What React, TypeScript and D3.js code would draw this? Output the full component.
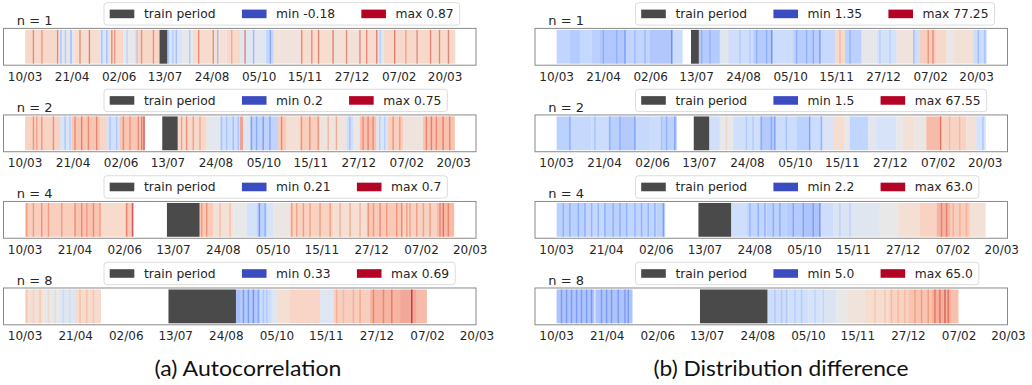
import React, { useEffect, useRef } from "react";
import * as d3 from "d3";

// ---------- data ----------
const tickLabels = ["10/03", "21/04", "02/06", "13/07", "24/08", "05/10", "15/11", "27/12", "07/02", "20/03"];
const tickDays = [0, 42, 84, 125, 167, 209, 250, 292, 334, 375];
const windowSizes = [1, 2, 4, 8];
// x-axis domain (days) of each row, box left .. box right
const axisDomains = [[-19.3, 402.6], [-18.9, 394.5], [-18.2, 379.9], [-17.9, 374.2]];
const trainPeriods = [[120, 127], [120, 133.5], [119.5, 147], [119, 175]];

const autoMin = [-0.18, 0.2, 0.21, 0.33];
const autoMax = [0.87, 0.75, 0.7, 0.69];
const diffMin = [1.35, 1.5, 2.2, 5.0];
const diffMax = [77.25, 67.55, 63.0, 65.0];

// [startDay, endDay, value]
const autoBands1 = [[0, 30, 0.47], [30, 44, 0.3], [44, 66, 0.45], [66, 76, 0.27], [76, 88, 0.47], [88, 98, 0.33], [98, 120, 0.48], [127, 140, 0.25], [140, 150, 0.33], [150, 166, 0.46], [166, 180, 0.42], [180, 192, 0.47], [192, 215, 0.3], [215, 222, 0.15], [222, 245, 0.4], [245, 275, 0.45], [275, 300, 0.42], [300, 315, 0.46], [315, 320, 0.3], [320, 384, 0.47]];
// [day, value]
const autoLines1 = [[7.4, 0.72], [15, 0.68], [29, 0.72], [32, 0.1], [36, 0.15], [41, 0.05], [49, 0.72], [57.4, 0.75], [68.5, 0.1], [73, 0.08], [77.4, 0.72], [80, 0.68], [91, 0.18], [100, 0.15], [104, 0.7], [114.6, 0.7], [128, 0.12], [132, 0.15], [135, 0.08], [147, 0.12], [155, 0.72], [168, 0.72], [172, 0.05], [184.5, 0.62], [196.4, 0.75], [204, 0.05], [219, 0.0], [247, 0.72], [256, 0.72], [262, 0.75], [275, 0.75], [287, 0.72], [299, 0.74], [305, 0.72], [314, 0.76], [317, 0.15], [330, 0.76], [340, 0.65], [350, 0.72], [362, 0.74], [370, 0.72], [378, 0.74]];

const autoBands2 = [[0, 30.6, 0.56], [30.6, 41, 0.43], [41, 65.6, 0.59], [65.6, 71.4, 0.55], [71.4, 83, 0.41], [83, 105, 0.59], [133.5, 158.8, 0.54], [158.8, 170.5, 0.46], [170.5, 188, 0.4], [188, 190.9, 0.66], [190.9, 196.7, 0.45], [196.7, 221.4, 0.36], [221.4, 228.7, 0.58], [228.7, 240.4, 0.52], [240.4, 257.9, 0.57], [257.9, 281.2, 0.5], [281.2, 287, 0.4], [287, 292.8, 0.48], [292.8, 307.4, 0.6], [307.4, 317.6, 0.44], [317.6, 330.7, 0.57], [330.7, 348.2, 0.5], [348.2, 376, 0.6]];
const autoLines2 = [[7.3, 0.65], [10.2, 0.63], [14.6, 0.65], [24.8, 0.66], [35, 0.36], [39.3, 0.38], [43.7, 0.66], [49.5, 0.68], [55.4, 0.66], [62.6, 0.67], [74.3, 0.36], [80.1, 0.37], [86, 0.66], [91.8, 0.65], [99.1, 0.66], [102, 0.68], [104, 0.72], [136.9, 0.64], [141.3, 0.66], [147.1, 0.64], [153, 0.62], [171.9, 0.35], [176.3, 0.36], [182.1, 0.34], [186.5, 0.36], [198.1, 0.28], [202.5, 0.3], [208.3, 0.27], [214.2, 0.29], [224.4, 0.67], [241.8, 0.65], [249.1, 0.66], [256.4, 0.65], [265.2, 0.6], [272.4, 0.62], [284.1, 0.35], [295.7, 0.66], [300.1, 0.67], [304.5, 0.66], [310.3, 0.38], [314.7, 0.38], [322, 0.65], [327.8, 0.64], [351.1, 0.67], [355.5, 0.68], [359.8, 0.66], [365.7, 0.68], [371.5, 0.67]];

const autoBands4 = [[0, 40.7, 0.54], [40.7, 63.2, 0.56], [63.2, 84.2, 0.51], [84.2, 91.5, 0.55], [147, 158.7, 0.55], [158.7, 175.5, 0.49], [175.5, 186.7, 0.455], [186.7, 195.2, 0.4], [195.2, 203.6, 0.35], [203.6, 209.2, 0.41], [209.2, 223.3, 0.465], [223.3, 259.8, 0.53], [259.8, 287.8, 0.5], [287.8, 318.7, 0.55], [318.7, 346.8, 0.53], [346.8, 361.5, 0.58]];
const autoLines4 = [[1.4, 0.6], [7, 0.6], [14, 0.61], [19.7, 0.6], [30.9, 0.6], [42.1, 0.61], [47.7, 0.62], [52, 0.6], [57.6, 0.62], [63.2, 0.6], [85.6, 0.63], [90.5, 0.68], [148.8, 0.6], [153, 0.61], [164.3, 0.55], [172.7, 0.54], [197.4, 0.26], [202.2, 0.31], [224.7, 0.6], [228.9, 0.59], [234.5, 0.6], [240.1, 0.59], [248.5, 0.6], [257, 0.6], [265.4, 0.57], [273.8, 0.58], [282.2, 0.57], [289.2, 0.61], [293.5, 0.6], [299.1, 0.62], [304.7, 0.6], [313.1, 0.61], [317.3, 0.62], [321.6, 0.6], [324.3, 0.59], [330, 0.6], [335.6, 0.59], [341.2, 0.6], [349.6, 0.62], [352.4, 0.65], [356.6, 0.62]];

const autoBands8 = [[0, 15.2, 0.54], [15.2, 29, 0.51], [29, 41.5, 0.49], [41.5, 63, 0.55], [175, 178.4, 0.4], [178.4, 195, 0.42], [195, 204.7, 0.456], [204.7, 208.9, 0.49], [208.9, 219.9, 0.54], [219.9, 244.8, 0.56], [244.8, 255.9, 0.49], [255.9, 286.3, 0.57], [286.3, 311.2, 0.61], [311.2, 325, 0.625], [325, 333.5, 0.6]];
const autoLines8 = [[1.4, 0.56], [6.9, 0.53], [12.4, 0.56], [19.4, 0.53], [24.9, 0.52], [31.8, 0.48], [37.3, 0.49], [45.6, 0.57], [51.2, 0.57], [56.7, 0.56], [181.2, 0.38], [185.3, 0.38], [189.5, 0.37], [193.6, 0.4], [197.8, 0.44], [200.6, 0.45], [258.6, 0.59], [264.2, 0.58], [272.5, 0.59], [278, 0.6], [289.1, 0.63], [297.4, 0.63], [304.3, 0.64], [320.9, 0.69]];

const diffBands1 = [[0, 11.9, 24.5], [11.9, 20.8, 20.5], [20.8, 31.3, 26], [31.3, 38.7, 22.5], [38.7, 62.5, 19.5], [62.5, 83.3, 24.5], [83.3, 104.2, 19.5], [104.2, 112.5, 28], [127, 145.8, 20.5], [145.8, 151.8, 34.5], [151.8, 153.3, 45.4], [153.3, 175.6, 28.5], [175.6, 193.5, 20.5], [193.5, 211.3, 28], [211.3, 235.1, 21.5], [235.1, 248.5, 26.5], [248.5, 257.4, 48.4], [257.4, 272.3, 23], [272.3, 285.7, 37.8], [285.7, 303.6, 31], [303.6, 318.5, 43.1], [318.5, 324.4, 29], [324.4, 339.3, 53], [339.3, 348.2, 48.4], [348.2, 354.2, 39.3], [354.2, 372, 44.6], [372, 384, 28]];
const diffLines1 = [[41.7, 16.5], [53.6, 18], [61, 12.7], [69.9, 20], [78.9, 20], [102.7, 8.9], [129.5, 18], [136.9, 18], [163.7, 26], [172.6, 26], [178.6, 18], [187.5, 17], [192, 10], [214.3, 18], [223.2, 18], [229.2, 16], [235.1, 10], [253, 54.5], [261.9, 18], [288.7, 27], [297.6, 27], [319, 20], [331.8, 63.6], [336, 66], [376.5, 20], [382.4, 22]];

const diffBands2 = [[0, 11.7, 20], [11.7, 30.6, 23.3], [30.6, 45.2, 24.6], [45.2, 55.4, 19.3], [55.4, 68.5, 18], [68.5, 81.6, 23.3], [81.6, 91.8, 24.6], [91.8, 105.2, 20], [133.5, 142.8, 26.6], [142.8, 154.4, 34.5], [154.4, 177.7, 26.6], [177.7, 192.3, 18], [192.3, 209.8, 24.6], [209.8, 221.4, 20], [221.4, 233.7, 24.6], [233.7, 241.8, 29.2], [241.8, 252, 41.1], [252, 256.4, 34.5], [256.4, 272.4, 21.3], [272.4, 279.7, 32.5], [279.7, 297.2, 27.9], [297.2, 303, 34.5], [303, 313.2, 39.2], [313.2, 323.4, 35.8], [323.4, 336.6, 51], [336.6, 358.4, 44.4], [358.4, 367.1, 39.2], [367.1, 375.5, 27.9]];
const diffLines2 = [[11.7, 13.4], [33.5, 20], [46.6, 15], [55.4, 15], [68.5, 11.4], [91.8, 20], [96.2, 16], [103.4, 11.4], [148.6, 39.2], [166.1, 22], [171.9, 22], [179.2, 15], [187.9, 14], [190.8, 13.4], [201, 20], [221.4, 11.4], [231.6, 14.7], [336, 61], [343.8, 47], [352.6, 47], [373, 20]];

const diffBands4 = [[0, 25.3, 19.2], [25.3, 39.3, 21.7], [39.3, 59, 19.2], [59, 84.2, 20.4], [84.2, 91.5, 19.2], [147, 160.1, 24.7], [160.1, 176.9, 20.4], [176.9, 193.8, 19.2], [193.8, 207.8, 17.4], [207.8, 221.8, 15.6], [221.8, 233.1, 24.1], [233.1, 249.9, 27.7], [249.9, 272.4, 29.6], [272.4, 287.8, 32.6], [287.8, 306.1, 37.5], [306.1, 320.1, 41.7], [320.1, 331.4, 49.6], [331.4, 348.2, 43.5], [348.2, 361.5, 36.9]];
const diffLines4 = [[5.6, 15], [11.2, 14.4], [18.3, 15], [23.9, 14.4], [29.5, 16], [35.1, 16], [40.7, 14.4], [47.7, 15], [53.4, 14.4], [59, 15], [66, 16], [71.6, 15], [77.2, 16], [82.8, 15], [89.9, 11.3], [162.9, 16], [169.9, 15], [175.5, 15], [182.6, 14.4], [188.1, 14], [199.4, 13], [207.8, 12], [216.2, 12], [221.8, 8.3], [238.7, 24], [247.1, 24], [324.3, 53.9], [328.6, 53.9], [334.2, 46], [339.8, 46], [345.4, 46]];

const diffBands8 = [[0, 31.5, 18.2], [32.2, 63, 18.2], [175, 192.3, 26.6], [192.3, 208.9, 27.8], [208.9, 219.9, 29], [219.9, 232.4, 30.8], [232.4, 240.7, 35], [240.7, 255.9, 38], [255.9, 275.2, 41], [275.2, 291.8, 44], [291.8, 311.2, 48.2], [311.2, 327.8, 53], [327.8, 333.5, 49.4]];
const diffLines8 = [[4.1, 14], [8.3, 14], [12.4, 14], [16.6, 14], [20.7, 14], [24.9, 14], [29, 13], [37.3, 14], [41.5, 14], [45.6, 14], [51.2, 14], [56.7, 14], [59.5, 14], [181.2, 24], [186.7, 24], [190.9, 24], [197.8, 25], [203.3, 25], [214.4, 27], [221.3, 28], [264.2, 43], [272.5, 43], [278, 46], [283.5, 46], [289.1, 47], [297.4, 51], [302.9, 52], [308.4, 52], [314, 57], [318.1, 58], [322.3, 60], [325, 58]];

const captions = ["(a) Autocorrelation", "(b) Distribution difference"];

const coolwarm = ["#3b4cc0", "#5977e3", "#7b9ff9", "#9ebeff", "#c0d4f5", "#dddcdc", "#f2cbb7", "#f7ac8e", "#ee8468", "#d65244", "#b40426"];

// ---------- layout ----------
const W = 1032, H = 385;
const panelLefts = [3.5, 535];
const boxW = 472.5;
const boxTop0 = 28.4, rowStep = 86.53, boxH = 36.8;
const captionCenters = [248, 781];
const captionWidths = [187, 255];
const FONT = "DejaVu Sans, sans-serif";
const TEXT = "#262626";

const fmt = (v: number) => (Number.isInteger(v) ? v.toFixed(1) : String(v));

export default function App() {
  const ref = useRef<SVGSVGElement>(null);

  useEffect(() => {
    const svg = d3.select(ref.current);
    svg.selectAll("*").remove();

    const panels = [
      { bands: [autoBands1, autoBands2, autoBands4, autoBands8], lines: [autoLines1, autoLines2, autoLines4, autoLines8], mins: autoMin, maxs: autoMax },
      { bands: [diffBands1, diffBands2, diffBands4, diffBands8], lines: [diffLines1, diffLines2, diffLines4, diffLines8], mins: diffMin, maxs: diffMax },
    ];

    panels.forEach((p, pi) => {
      const left = panelLefts[pi];
      windowSizes.forEach((n, r) => {
        const top = boxTop0 + r * rowStep;
        const bottom = top + boxH;
        const g = svg.append("g");
        const x = d3.scaleLinear().domain(axisDomains[r]).range([left, left + boxW]);
        const mn = p.mins[r], mx = p.maxs[r];
        const color = d3
          .scaleLinear<string>()
          .domain(coolwarm.map((_, i) => mn + ((mx - mn) * i) / (coolwarm.length - 1)))
          .range(coolwarm)
          .interpolate(d3.interpolateRgb)
          .clamp(true);

        const y0 = top + 1.5, y1 = bottom - 1.5;
        g.append("g")
          .selectAll("rect")
          .data(p.bands[r])
          .join("rect")
          .attr("x", (d) => x(d[0]))
          .attr("width", (d) => Math.max(0, x(d[1]) - x(d[0])))
          .attr("y", y0)
          .attr("height", y1 - y0)
          .attr("fill", (d) => color(d[2]))
          .attr("opacity", 0.65);

        g.append("g")
          .selectAll("rect")
          .data(p.lines[r])
          .join("rect")
          .attr("x", (d) => x(d[0] - 0.6))
          .attr("width", (d) => x(d[0] + 0.6) - x(d[0] - 0.6))
          .attr("y", y0)
          .attr("height", y1 - y0)
          .attr("fill", (d) => color(d[1]))
          .attr("opacity", 0.7);

        const tp = trainPeriods[r];
        g.append("rect")
          .attr("x", x(tp[0]))
          .attr("width", x(tp[1]) - x(tp[0]))
          .attr("y", y0)
          .attr("height", y1 - y0)
          .attr("fill", "#4a4a4a");

        g.append("rect")
          .attr("x", left)
          .attr("y", top)
          .attr("width", boxW)
          .attr("height", boxH)
          .attr("fill", "none")
          .attr("stroke", "#8a8a8a")
          .attr("stroke-width", 1);

        g.append("g")
          .selectAll("text")
          .data(tickDays)
          .join("text")
          .attr("x", (d) => x(d))
          .attr("y", bottom + 15.4)
          .attr("text-anchor", "middle")
          .attr("font-family", FONT)
          .attr("font-size", 12)
          .attr("fill", TEXT)
          .text((_, i) => tickLabels[i]);

        g.append("text")
          .attr("x", left + 13.3)
          .attr("y", top - 3.2)
          .attr("font-family", FONT)
          .attr("font-size", 13)
          .attr("fill", TEXT)
          .text(`n = ${n}`);

        // legend
        const lg = g.append("g");
        const lx = left + 100.5;
        const lh = 22.4;
        const ly = top - 3.3 - lh;
        const frame = lg.append("rect");
        const items = [
          { c: "#4a4a4a", t: "train period" },
          { c: coolwarm[0], t: `min ${fmt(mn)}` },
          { c: coolwarm[coolwarm.length - 1], t: `max ${fmt(mx)}` },
        ];
        let cx = lx + 5.7;
        const cy = ly + lh / 2;
        items.forEach((it, i) => {
          lg.append("rect")
            .attr("x", cx)
            .attr("y", cy - 4.3)
            .attr("width", 24.6)
            .attr("height", 8.6)
            .attr("fill", it.c);
          cx += 24.6 + 9.6;
          const t = lg
            .append("text")
            .attr("x", cx)
            .attr("y", cy + 4.4)
            .attr("font-family", FONT)
            .attr("font-size", 12.3)
            .attr("fill", TEXT)
            .text(it.t);
          const tw = (t.node() as SVGTextElement).getComputedTextLength();
          cx += tw + (i < items.length - 1 ? 26.3 : 6);
        });
        frame
          .attr("x", lx)
          .attr("y", ly)
          .attr("width", cx - lx)
          .attr("height", lh)
          .attr("rx", 3)
          .attr("fill", "#ffffff")
          .attr("fill-opacity", 0.85)
          .attr("stroke", "#dcdcdc")
          .attr("stroke-width", 1);
      });

      svg
        .append("text")
        .attr("x", captionCenters[pi])
        .attr("y", 376)
        .attr("text-anchor", "middle")
        .attr("font-family", "Lato, sans-serif")
        .attr("font-size", 21.5)
        .attr("fill", "#111")
        .attr("textLength", captionWidths[pi])
        .attr("lengthAdjust", "spacingAndGlyphs")
        .text(captions[pi]);
    });
  }, []);

  return (
    <svg
      ref={ref}
      width={W}
      height={H}
      style={{ position: "absolute", left: 0, top: 0, background: "#fff" }}
    />
  );
}
